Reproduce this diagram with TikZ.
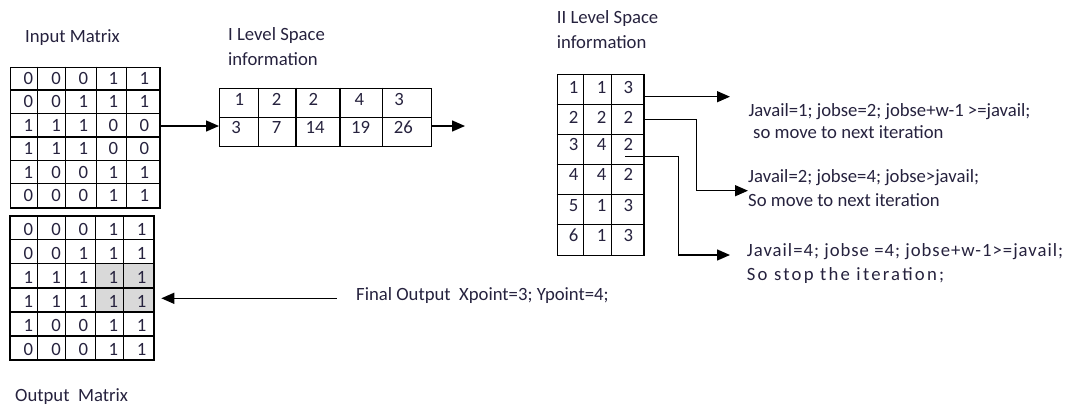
\documentclass[tikz,border=0pt]{standalone}
\usepackage{fontspec}
\setmainfont{Carlito}
\usetikzlibrary{arrows.meta,calc}
\definecolor{ink}{RGB}{38,34,62}
\definecolor{cellgray}{RGB}{217,217,217}
\begin{document}
\begin{tikzpicture}[x=1pt,y=-1pt,
  every node/.style={inner sep=0pt,text=ink},
  txt/.style={font=\fontsize{18.7}{#1}\selectfont,anchor=base west,align=left},
  txt/.default=25,
  digit/.style={font=\fontsize{18.7}{22}\selectfont,anchor=base},
  box/.style={draw=black,line width=1.3pt,anchor=north west,minimum width=#1},
  grid/.style={draw=black,line width=1.3pt},
  arr/.style={draw=black,line width=1.4pt,-{Triangle[length=13pt,width=11pt]}}]
\useasboundingbox (0,0) rectangle (1067,405);

% ---------- input matrix ----------
\node[txt] (lblin) at (25,42.5) {Input Matrix};
\node[box=149.3pt,minimum height=140.6pt] (inmat) at (10,66.7) {};
\foreach \x in {37.3,65.7,96.7,126.7} \draw[grid] (\x,66.7) -- (\x,207.3);
\foreach \y in {90.1,113.5,136.9,160.3,183.7} \draw[grid] (10,\y) -- (159.3,\y);
\foreach \row [count=\r] in {{0,0,0,1,1},{0,0,1,1,1},{1,1,1,0,0},{1,1,1,0,0},{1,0,0,1,1},{0,0,0,1,1}}
  \foreach \v [count=\c] in \row {
    \pgfmathsetmacro\xx{{28.3,56,83.3,113.3,144.3}[\c-1]}
    \pgfmathsetmacro\yy{84.5+23.4*(\r-1)}
    \node[digit] (in-\r-\c) at (\xx,\yy) {\v};
  }

% ---------- output matrix ----------
\node[box=144pt,minimum height=144.3pt] (outmat) at (10,215.7) {};
\fill[cellgray] (95.7,263.8) rectangle (154,311.9);
\foreach \x in {37.3,65.7,95.7,123.3} \draw[grid] (\x,215.7) -- (\x,360);
\foreach \y in {239.75,263.8,287.85,311.9,335.95} \draw[grid] (10,\y) -- (154,\y);
\draw[grid] (10,215.7) rectangle (154,360);
\foreach \row [count=\r] in {{0,0,0,1,1},{0,0,1,1,1},{1,1,1,1,1},{1,1,1,1,1},{1,0,0,1,1},{0,0,0,1,1}}
  \foreach \v [count=\c] in \row {
    \pgfmathsetmacro\xx{{28.3,56,83.3,113.3,141.7}[\c-1]}
    \pgfmathsetmacro\yy{235+24.05*(\r-1)}
    \node[digit] (out-\r-\c) at (\xx,\yy) {\v};
  }
\node[txt] (lblout) at (15,401.7) {Output~~Matrix};

% ---------- first level space information ----------
% (base anchor of a two-line node sits on its last line)
\node[txt] (lblone) at (228,65.7) {I Level Space\\information};
\node[box=212pt,minimum height=58pt] (lvlone) at (219,87.7) {};
\foreach \x in {258.3,296,340,382.3} \draw[grid] (\x,87.7) -- (\x,145.7);
\draw[grid] (219,117.3) -- (431,117.3);
\foreach \x/\v [count=\c] in {239.3/1,276.7/2,313.3/2,359.3/4,399/3}
  \node[digit] (l1-1-\c) at (\x,105) {\v};
\foreach \x/\v [count=\c] in {236/3,276.7/7,315/14,360.7/19,403.3/26}
  \node[digit] (l1-2-\c) at (\x,133.3) {\v};

% ---------- second level space information ----------
\node[txt] (lbltwo) at (556.7,48.3) {II Level Space\\information};
\node[box=86.6pt,minimum height=181pt] (lvltwo) at (556.7,74) {};
\foreach \x in {583.3,611.7} \draw[grid] (\x,74) -- (\x,255);
\foreach \y in {104.2,134.3,164.5,194.7,224.8} \draw[grid] (556.7,\y) -- (643.3,\y);
\foreach \yy/\a/\b/\c [count=\r] in {93.3/1/1/3,123.3/2/2/2,150/3/4/2,180/4/4/2,211.7/5/1/3,241.7/6/1/3} {
  \node[digit] (l2-\r-1) at (573.5,\yy) {\a};
  \node[digit] (l2-\r-2) at (601.7,\yy) {\b};
  \node[digit] (l2-\r-3) at (628.3,\yy) {\c};
}

% ---------- iteration notes ----------
\node[txt=21.6] (noteA) at (748.3,138.3) {Javail=1; jobse=2; jobse+w-1 >=javail;\\\hspace*{4.7pt}so move to next iteration};
\node[txt=24.4] (noteB) at (748,206.7) {Javail=2; jobse=4; jobse>javail;\\So move to next iteration};
\node[txt=23.3] (noteC) at (746.7,280) {{\addfontfeature{LetterSpace=5.4}Javail=4; jobse =4; jobse+w-1>=javail;}\\{\addfontfeature{LetterSpace=12}So stop the iteration;}};
\node[txt] (final) at (356,300.7) {Final Output~~Xpoint=3; Ypoint=4;};

% ---------- connectors ----------
\coordinate (l1tip) at (465,126);
\coordinate (tipA) at (730,96.7);
\coordinate (startB) at (643.3,119.3);
\coordinate (bendB) at (696.7,190.7);
\coordinate (startC) at (625,156.7);
\coordinate (bendC) at (678.3,255);
\coordinate (tipC) at (730,255);
\coordinate (fstart) at (336.7,298.3);

\draw[arr] (inmat.east |- l1tip) -- (lvlone.west |- l1tip);
\draw[arr] (lvlone.east |- l1tip) -- (l1tip);
\draw[arr] (lvltwo.east |- tipA) -- (tipA);
\draw[arr] (startB) -| (bendB) -- (bendB -| noteB.west);
\draw[arr] (startC) -| (bendC) -- (tipC);
\draw[arr] (fstart) -- ([xshift=6pt]outmat.east |- fstart);
\end{tikzpicture}
\end{document}
